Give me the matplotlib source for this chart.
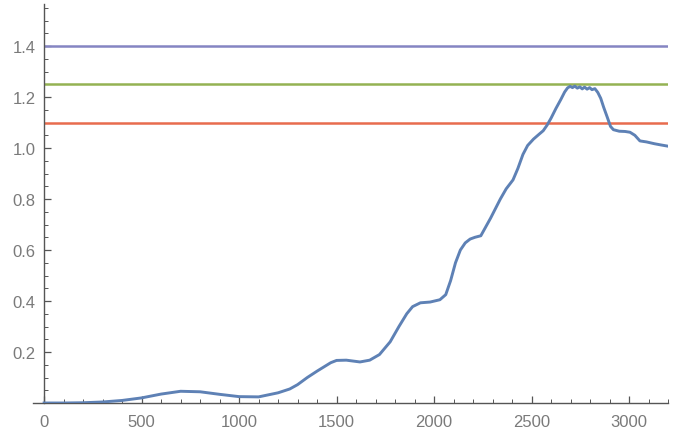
import matplotlib
matplotlib.use("Agg")
import matplotlib.pyplot as plt
from matplotlib.ticker import MultipleLocator, FixedLocator

# Measured response curve
x_vals = [0, 100, 200, 300, 400, 500, 600, 700, 800, 900, 1000, 1100, 1200,
          1260, 1300, 1350, 1400, 1470, 1500, 1550, 1620, 1670, 1720, 1775,
          1820, 1860, 1890, 1930, 1980, 2030, 2060, 2085, 2110, 2135, 2160,
          2185, 2210, 2240, 2290, 2340, 2370, 2405, 2430, 2456, 2480, 2510,
          2540, 2560, 2580, 2600, 2625, 2650, 2670, 2685, 2698, 2710, 2722,
          2735, 2748, 2760, 2772, 2785, 2798, 2810, 2825, 2840, 2855, 2870,
          2888, 2905, 2920, 2950, 2980, 3005, 3030, 3056, 3090, 3130, 3165,
          3195]
y_vals = [0.0, 0.0, 0.001, 0.004, 0.010, 0.020, 0.035, 0.046, 0.044, 0.034,
          0.025, 0.024, 0.040, 0.055, 0.072, 0.100, 0.125, 0.158, 0.167,
          0.168, 0.161, 0.168, 0.190, 0.240, 0.300, 0.350, 0.378, 0.393,
          0.396, 0.405, 0.425, 0.480, 0.550, 0.600, 0.628, 0.643, 0.650,
          0.656, 0.725, 0.800, 0.840, 0.875, 0.920, 0.975, 1.010, 1.035,
          1.055, 1.068, 1.090, 1.117, 1.155, 1.190, 1.220, 1.236, 1.242,
          1.237, 1.243, 1.235, 1.240, 1.232, 1.239, 1.231, 1.237, 1.229,
          1.233, 1.218, 1.195, 1.160, 1.122, 1.085, 1.072, 1.066, 1.065,
          1.062, 1.050, 1.028, 1.024, 1.017, 1.012, 1.008]

# Threshold levels
thresholds = [1.4, 1.25, 1.1]
threshold_colors = ["#8585C2", "#94B253", "#E86C4E"]

x_ticks = [0, 500, 1000, 1500, 2000, 2500, 3000]
x_tick_labels = ["0", "500", "1000", "1500", "2000", "2500", "3000"]
y_ticks = [0.2, 0.4, 0.6, 0.8, 1.0, 1.2, 1.4]
y_tick_labels = ["0.2", "0.4", "0.6", "0.8", "1.0", "1.2", "1.4"]

plt.rcParams["font.family"] = ["Liberation Sans", "DejaVu Sans"]

fig = plt.figure(figsize=(6.73, 4.39), dpi=100)
ax = fig.add_axes([33 / 673, 35 / 439, 635 / 673, 399 / 439])

x_left = -57
x_right = 3200
for level, col in zip(thresholds, threshold_colors):
    ax.plot([0, x_right], [level, level], color=col, lw=1.8,
            solid_capstyle="butt", zorder=2)

ax.plot(x_vals, y_vals, color="#5E81B5", lw=2.1, zorder=3,
        solid_joinstyle="round")

ax.set_xlim(x_left, x_right)
ax.set_ylim(0, 1.565)

for s in ["top", "right"]:
    ax.spines[s].set_visible(False)
ax.spines["left"].set_position(("data", 0))
for s in ["left", "bottom"]:
    ax.spines[s].set_color("#555555")
    ax.spines[s].set_linewidth(1.0)

ax.xaxis.set_major_locator(FixedLocator(x_ticks))
ax.set_xticklabels(x_tick_labels)
ax.xaxis.set_minor_locator(MultipleLocator(100))
ax.yaxis.set_major_locator(FixedLocator(y_ticks))
ax.set_yticklabels(y_tick_labels)
ax.yaxis.set_minor_locator(MultipleLocator(0.05))

ax.tick_params(axis="both", which="major", direction="in", length=5,
               width=0.9, color="#555555", labelcolor="#7A7A7A",
               labelsize=12)
ax.tick_params(axis="both", which="minor", direction="in", length=2.8,
               width=0.7, color="#555555")
ax.tick_params(axis="x", which="major", pad=8)
ax.tick_params(axis="y", which="major", pad=6)

fig.savefig("out.png", dpi=100, facecolor="white")
